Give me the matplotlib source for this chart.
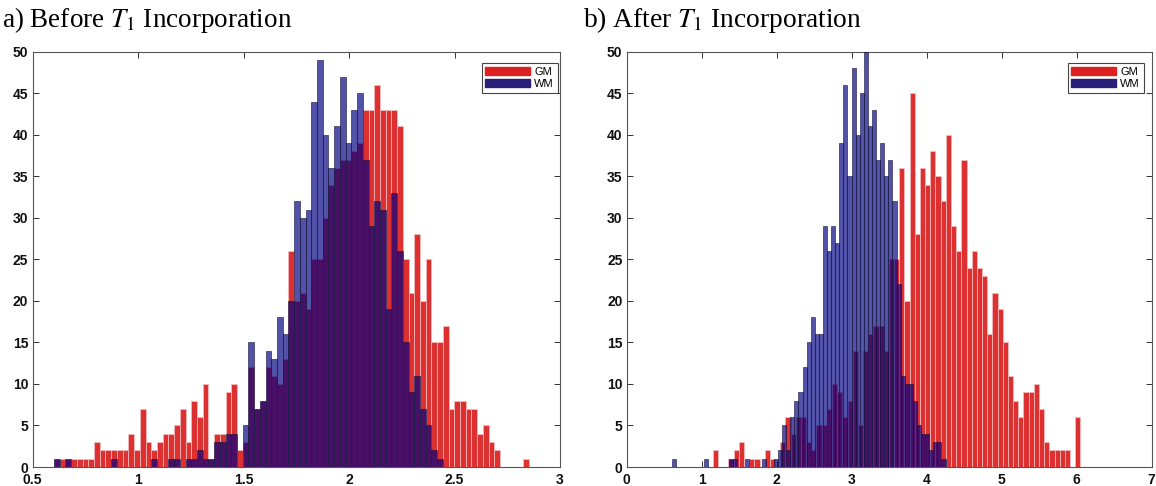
import matplotlib
matplotlib.use('Agg')
import matplotlib.pyplot as plt
import numpy as np
from matplotlib.patches import Patch

plt.rcParams['font.family'] = ['Liberation Sans', 'DejaVu Sans']
plt.rcParams['mathtext.fontset'] = 'stix'

# a) before T1 incorporation (common bins)
a_start = 0.602
a_width = 0.0271
a_gm = [1, 1, 1, 1, 1, 1, 1, 3, 2, 2,
        2, 2, 2, 4, 2, 7, 3, 2, 3, 4,
        4, 5, 7, 3, 8, 6, 10, 1, 4, 4,
        9, 10, 2, 3, 12, 7, 8, 12, 11, 10,
        13, 26, 20, 21, 19, 25, 25, 30, 34, 36,
        37, 37, 38, 39, 43, 43, 46, 43, 43, 43,
        41, 25, 21, 28, 20, 25, 15, 15, 17, 7,
        8, 8, 7, 7, 4, 5, 3, 2, 0, 0,
        0, 0, 1]
a_wm = [1, 0, 1, 0, 0, 0, 0, 0, 0, 0,
        1, 0, 0, 0, 0, 0, 0, 1, 0, 0,
        1, 1, 0, 1, 1, 2, 1, 1, 3, 3,
        4, 4, 0, 5, 15, 7, 8, 14, 13, 18,
        16, 20, 32, 30, 31, 44, 49, 40, 36, 41,
        47, 39, 43, 45, 37, 29, 32, 31, 19, 33,
        26, 15, 9, 11, 7, 5, 2, 1, 0, 0,
        0, 0, 0, 0, 0, 0, 0, 0, 0, 0,
        0, 0, 0]
a_xticks = [0.5, 1, 1.5, 2, 2.5, 3]
a_xlabels = ['0.5', '1', '1.5', '2', '2.5', '3']

# b) after T1 incorporation (each class has its own bins)
b_gm_start = 1.15
b_gm_width = 0.069
b_gm = [2, 0, 0, 1, 2, 3, 0, 1, 1, 0,
        2, 1, 0, 3, 6, 4, 6, 6, 3, 2,
        5, 5, 7, 10, 9, 6, 8, 14, 5, 14,
        16, 17, 17, 14, 25, 25, 36, 20, 45, 28,
        36, 34, 38, 35, 32, 40, 29, 26, 37, 24,
        26, 24, 23, 16, 21, 19, 15, 11, 8, 6,
        9, 9, 10, 7, 3, 2, 2, 2, 2, 0,
        6]
b_wm_start = 0.6
b_wm_width = 0.0545
b_wm = [1, 0, 0, 0, 0, 0, 0, 0, 1, 0,
        0, 0, 0, 0, 1, 1, 0, 0, 1, 0,
        0, 0, 1, 0, 0, 1, 2, 5, 2, 6,
        8, 9, 12, 15, 18, 16, 16, 29, 26, 29,
        27, 39, 46, 35, 48, 40, 45, 50, 41, 43,
        37, 39, 35, 37, 32, 22, 11, 10, 10, 8,
        5, 4, 4, 2, 3, 3, 1]
b_xticks = [0, 1, 2, 3, 4, 5, 6, 7]

yticks = [0, 5, 10, 15, 20, 25, 30, 35, 40, 45, 50]

red = '#dd3030'
navy = '#000080'


def hist_bars(ax, start, width, counts, **kw):
    left = start + width * np.arange(len(counts))
    return ax.bar(left, counts, width=width, align='edge', zorder=3, **kw)


def style(ax, xlim, xticks, xlabels, leg_x):
    ax.set_xlim(*xlim)
    ax.set_ylim(0, 50)
    ax.set_xticks(xticks)
    ax.set_xticklabels(xlabels)
    ax.set_yticks(yticks)
    ax.tick_params(direction='in', top=True, right=True, length=4,
                   width=0.7, labelsize=10, colors='#333333',
                   labelcolor='#111111')
    ax.tick_params(axis='x', pad=4.5)
    ax.tick_params(axis='y', pad=3)
    for lab in ax.get_xticklabels() + ax.get_yticklabels():
        lab.set_fontweight('bold')
    for s in ax.spines.values():
        s.set_color('#555555')
        s.set_linewidth(0.8)
    leg = ax.legend(handles=[Patch(facecolor='#dd2020', edgecolor='#dd2020', label='GM'),
                             Patch(facecolor='#2a1f78', edgecolor='#2a1f78', label='WM')],
                    loc='upper right', bbox_to_anchor=(leg_x, 0.973),
                    borderaxespad=0, fontsize=8, fancybox=False,
                    handlelength=4.0, handleheight=0.8, handletextpad=0.4,
                    borderpad=0.35, labelspacing=0.15, framealpha=1)
    leg.get_frame().set_edgecolor('#444444')
    leg.get_frame().set_linewidth(0.8)
    leg.set_zorder(5)


fig = plt.figure(figsize=(11.56, 4.86), dpi=100)
bot = 1 - 467 / 486
hgt = (467 - 51.7) / 486

ax1 = fig.add_axes([32.5 / 1156, bot, (560 - 32.5) / 1156, hgt])
hist_bars(ax1, a_start, a_width, a_gm, color=red, edgecolor='#f4c0c0', linewidth=0.5)
hist_bars(ax1, a_start, a_width, a_wm, color=navy, alpha=0.68, edgecolor='#15153a', linewidth=0.6)
style(ax1, (0.5, 3), a_xticks, a_xlabels, 0.996)

ax2 = fig.add_axes([626.7 / 1156, bot, 525 / 1156, hgt])
hist_bars(ax2, b_gm_start, b_gm_width, b_gm, color=red, edgecolor='#f4c0c0', linewidth=0.5)
hist_bars(ax2, b_wm_start, b_wm_width, b_wm, color=navy, alpha=0.68, edgecolor='#15153a', linewidth=0.6)
style(ax2, (0, 7), b_xticks, [str(t) for t in b_xticks], 0.985)

fig.text(0.002, 0.958, 'a) Before $T_1$ Incorporation', family='Liberation Serif',
         fontsize=19.5, va='center', ha='left')
fig.text(0.504, 0.958, 'b) After $T_1$ Incorporation', family='Liberation Serif',
         fontsize=19.8, va='center', ha='left')

fig.savefig('out.png', dpi=100)
